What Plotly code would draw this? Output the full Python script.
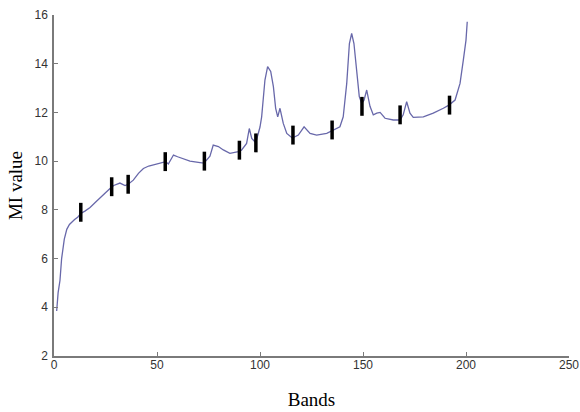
import plotly.graph_objects as go

# MI value curve
bands = [1.3, 2.0, 2.9, 3.7, 5.0, 6.2, 7.5, 8.6, 10, 11.5, 13, 15, 17.5, 20, 22.3, 25, 27.2, 29,
         32, 34.5, 36, 38.5, 41, 43.4, 46, 48.2, 51, 53, 54.2, 55.5, 58, 60, 62.8, 66, 70.9,
         72.8, 75.7, 77.3, 79.8, 82.2, 85.4, 89.5, 91, 93.5, 94.8, 96, 97.5, 98.4, 100, 100.8,
         102.4, 103.7, 105.2, 106.5, 107.6, 108.6, 109.7, 111.3, 113, 115.7, 118.6, 121.4,
         124.3, 127.5, 132.4, 135.6, 138.8, 140.4, 142.1, 143.4, 144.5, 145.6, 146.9, 148.2,
         149.4, 150.5, 151.8, 153.4, 155, 156.7, 158.3, 160.7, 164.7, 168, 169.5, 171.2,
         172.8, 174.4, 179.3, 184.1, 189, 191.7, 194.7, 197.1, 198.7, 200, 200.6]
mi_values = [3.85, 4.6, 5.1, 6.0, 6.8, 7.2, 7.4, 7.5, 7.6, 7.7, 7.85, 7.95, 8.1, 8.3, 8.47, 8.7,
             8.88, 9.0, 9.1, 9.0, 9.05, 9.22, 9.5, 9.7, 9.8, 9.84, 9.9, 9.94, 9.98, 9.88, 10.25,
             10.18, 10.1, 10.0, 9.94, 9.92, 10.2, 10.66, 10.6, 10.46, 10.32, 10.39, 10.45,
             10.73, 11.34, 10.93, 10.8, 10.9, 11.4, 11.82, 13.33, 13.88, 13.68, 13.06, 12.17,
             11.82, 12.17, 11.55, 11.14, 10.95, 11.07, 11.41, 11.14, 11.07, 11.14, 11.28,
             11.41, 11.82, 13.19, 14.83, 15.24, 14.83, 13.6, 12.65, 12.37, 12.5, 12.92, 12.25,
             11.9, 11.97, 12.0, 11.76, 11.69, 11.69, 11.9, 12.44, 11.97, 11.8, 11.82, 11.97,
             12.17, 12.3, 12.51, 13.19, 14.15, 14.97, 15.72]

# Selected bands (black bars)
sel_bands = [13, 28, 36, 54, 73, 90, 98, 116, 135, 149.5, 168, 192]
sel_values = [7.9, 8.95, 9.05, 9.98, 10.0, 10.45, 10.75, 11.07, 11.28, 12.25, 11.9, 12.3]

x_ticks = [0, 50, 100, 150, 200, 250]
y_ticks = [2, 4, 6, 8, 10, 12, 14, 16]

fig = go.Figure()
fig.add_trace(go.Scatter(x=bands, y=mi_values, mode="lines",
                         line=dict(color="#6868aa", width=1.3), showlegend=False))
fig.add_trace(go.Scatter(x=sel_bands, y=sel_values, mode="markers",
                         marker=dict(symbol="line-ns", size=13.5,
                                     line=dict(color="black", width=3.5)),
                         showlegend=False))

axis_common = dict(showline=True, linecolor="#7a7a7a", linewidth=1.5, ticks="inside",
                   ticklen=4, tickcolor="#7a7a7a", tickwidth=1.2, showgrid=False,
                   zeroline=False, automargin=False,
                   tickfont=dict(family="Liberation Sans", size=12, color="#333333"))

fig.update_layout(
    width=580, height=412,
    margin=dict(l=54, r=11, t=15, b=56),
    paper_bgcolor="white", plot_bgcolor="white",
    xaxis=dict(range=[0, 250], tickvals=x_ticks, ticklabelstandoff=-3,
               title=dict(text="Bands", font=dict(family="Liberation Serif", size=19, color="black"),
                          standoff=22),
               **axis_common),
    yaxis=dict(range=[2, 16], tickvals=y_ticks, ticklabelstandoff=2,
               title=dict(text="MI value", font=dict(family="Liberation Serif", size=19, color="black"),
                          standoff=7),
               **axis_common),
)
fig.write_html("out.html", config={"displayModeBar": False},
               post_script="document.body.style.margin='0px';document.body.style.overflow='hidden';")
